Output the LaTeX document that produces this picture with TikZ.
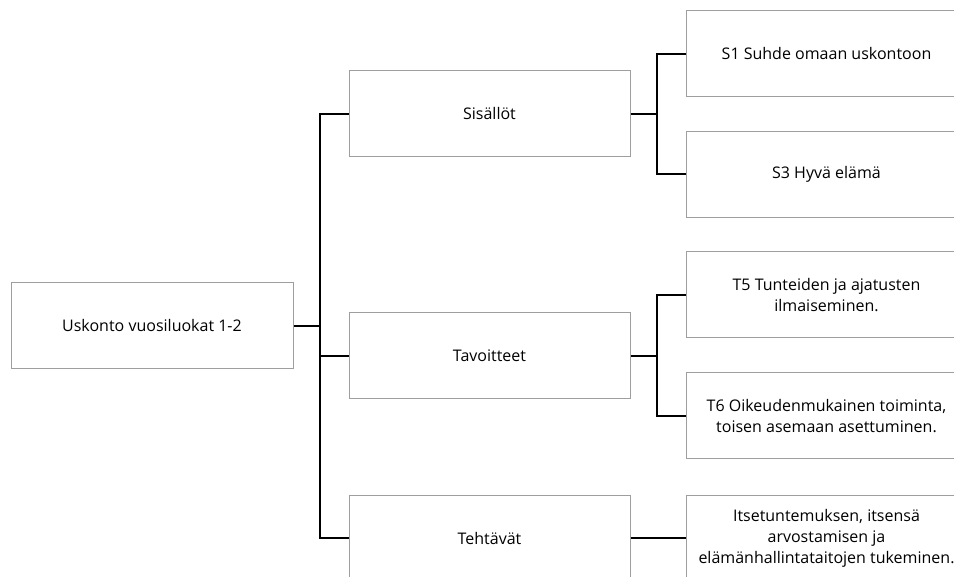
\documentclass[tikz,border=0pt]{standalone}
\usepackage{fontspec}
\setmainfont{Open Sans}
\begin{document}
\begin{tikzpicture}[x=1pt,y=-1pt,
  box/.style={draw=black!38,line width=1pt,fill=white,minimum width=281pt,minimum height=86pt,
    inner sep=2pt,align=center,font=\fontsize{16}{21}\selectfont},
  conn/.style={draw=black,line width=2pt}]
\useasboundingbox (0,0) rectangle (954,577);
\clip (0,0) rectangle (954,577);
\node[box,minimum width=282pt] (root) at (152,326) {Uskonto vuosiluokat 1-2};
\node[box] (sis) at (489.5,114) {Sisällöt};
\node[box] (tav) at (489.5,356) {Tavoitteet};
\node[box] (teh) at (489.5,538) {Tehtävät};
\node[box] (s1) at (826.5,54) {S1 Suhde omaan uskontoon};
\node[box] (s3) at (826.5,174.5) {S3 Hyvä elämä};
\node[box] (t5) at (826.5,295) {T5 Tunteiden ja ajatusten\\ilmaiseminen.};
\node[box] (t6) at (826.5,416) {T6 Oikeudenmukainen toiminta,\\toisen asemaan asettuminen.};
\node[box] (tc) at (826.5,538) {Itsetuntemuksen, itsensä\\arvostamisen ja\\elämänhallintataitojen tukeminen.};
\draw[conn] (sis.west) -- ++(-28.5,0) coordinate (b1) |- (teh.west);
\draw[conn] (root.east) -- (root.east -| b1);
\draw[conn] (tav.west) -- (tav.west -| b1);
\draw[conn] (s1.west) -- ++(-28.5,0) coordinate (b2) |- (s3.west);
\draw[conn] (sis.east) -- (sis.east -| b2);
\draw[conn] (t5.west) -- ++(-28.5,0) coordinate (b3) |- (t6.west);
\draw[conn] (tav.east) -- (tav.east -| b3);
\draw[conn] (teh.east) -- (tc.west);
\end{tikzpicture}
\end{document}
